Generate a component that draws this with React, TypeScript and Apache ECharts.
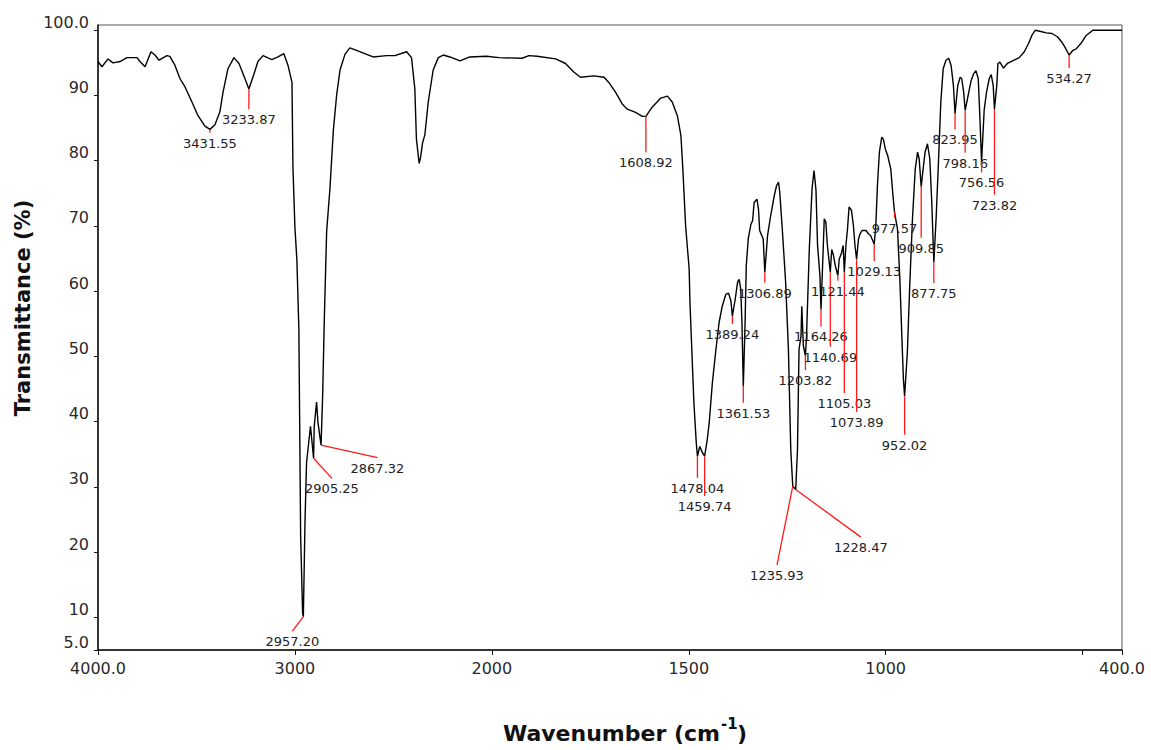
import React, { useEffect, useRef } from "react";
import * as echarts from "echarts";

// ---- Spectrum (wavenumber cm-1, transmittance %) ----
const WAVENUMBERS = [
  4000, 3980, 3949, 3924, 3888, 3853, 3802, 3787, 3761, 3731, 3711, 3690, 3650, 3635, 3609, 3584, 3558, 3523, 3492, 3457,
  3431.55, 3406, 3381, 3365, 3340, 3310, 3284, 3254, 3233.87, 3208, 3188, 3162, 3117, 3086, 3056, 3035, 3015, 3010, 3000, 2990,
  2980, 2971, 2961, 2957.2, 2949, 2941, 2921, 2905.25, 2902, 2890, 2883, 2867.32, 2859, 2851, 2839, 2822, 2805, 2788, 2771, 2746,
  2721, 2687, 2603, 2535, 2492, 2433, 2408, 2391, 2383, 2369, 2362, 2352, 2340, 2323, 2298, 2272, 2247, 2213, 2162, 2112,
  2027, 1982, 1923, 1906, 1885, 1838, 1813, 1792, 1775, 1741, 1715, 1703, 1686, 1669, 1656, 1635, 1618, 1608.92, 1593, 1571,
  1554, 1542, 1529, 1520, 1515, 1508, 1499, 1497, 1492, 1487, 1481, 1478.04, 1472, 1465, 1459.74, 1453, 1448, 1440, 1431, 1423,
  1415, 1406, 1399, 1393, 1389.24, 1382, 1376, 1372, 1368, 1365, 1361.53, 1357, 1354, 1349, 1342, 1338, 1334, 1327, 1323, 1320,
  1311, 1306.89, 1300, 1292, 1283, 1277, 1272, 1269, 1262, 1254, 1247, 1241, 1235.93, 1228.47, 1224, 1220, 1215, 1213, 1209, 1203.82,
  1201, 1194, 1187, 1182, 1177, 1173, 1167, 1164.26, 1159, 1156, 1152, 1148, 1140.69, 1137, 1133, 1128, 1121.44, 1118, 1112, 1108,
  1105.03, 1101, 1097, 1093, 1087, 1082, 1078, 1073.89, 1069, 1065, 1060, 1050, 1044, 1038, 1029.13, 1025, 1021, 1016, 1010, 1006,
  1001, 995, 987, 982, 977.57, 970, 964, 959, 955, 952.02, 945, 939, 932, 925, 919, 915, 909.85, 905, 900, 894,
  888, 883, 877.75, 872, 866, 860, 854, 847, 840, 834, 828, 823.95, 817, 811, 807, 802, 798.16, 789, 783, 777,
  771, 765, 761, 756.56, 750, 744, 737, 732, 727, 723.82, 718, 715, 710, 701, 691, 674, 661, 648, 637, 629,
  620, 606, 592, 578, 564, 553, 543, 534.27, 525, 517, 504, 491, 474, 400,
];
const TRANSMITTANCE = [
  95.2, 94.4, 95.6, 95.0, 95.2, 95.8, 95.8, 95.2, 94.4, 96.7, 96.2, 95.4, 96.1, 96.0, 94.6, 92.6, 91.3, 89.0, 86.9, 85.3,
  84.8, 85.5, 87.5, 90.5, 94.1, 95.8, 94.9, 92.6, 91.0, 93.3, 95.2, 96.1, 95.5, 95.9, 96.4, 94.6, 92.0, 79.0, 69.7, 64.8,
  54.2, 22.5, 10.7, 10.1, 24.4, 33.7, 39.3, 34.4, 39.3, 43.0, 39.9, 36.4, 44.2, 55.4, 69.1, 75.8, 84.6, 90.1, 93.9, 96.3,
  97.3, 96.9, 95.9, 96.1, 96.1, 96.7, 95.8, 91.0, 83.3, 79.6, 80.5, 82.7, 84.0, 89.0, 93.9, 95.8, 96.2, 95.9, 95.3, 95.9,
  96.0, 95.8, 95.7, 96.1, 96.0, 95.6, 94.9, 93.6, 92.8, 93.0, 92.8, 92.0, 90.5, 88.7, 87.9, 87.4, 86.8, 86.8, 88.2, 89.6,
  89.9, 89.0, 86.9, 83.9, 78.7, 70.0, 63.4, 58.3, 50.6, 42.9, 36.8, 34.7, 36.2, 35.2, 34.7, 37.3, 39.9, 46.0, 51.1, 55.2,
  57.7, 59.5, 59.7, 58.5, 56.2, 58.8, 61.4, 61.8, 60.3, 55.2, 45.4, 55.2, 63.9, 68.0, 70.3, 70.8, 73.6, 74.1, 72.6, 69.3,
  68.0, 62.9, 68.5, 71.6, 74.6, 76.2, 76.7, 75.2, 69.0, 61.3, 51.1, 35.7, 30.1, 29.6, 35.7, 51.1, 53.1, 57.7, 51.6, 50.1,
  53.1, 66.4, 75.7, 78.5, 75.5, 67.0, 62.4, 57.2, 65.9, 71.1, 70.6, 67.0, 62.9, 66.4, 65.6, 63.9, 62.4, 64.9, 65.9, 67.0,
  62.9, 67.0, 69.5, 72.9, 72.4, 70.1, 67.0, 64.9, 68.0, 68.8, 69.3, 69.3, 68.8, 68.5, 67.2, 70.1, 76.2, 81.3, 83.6, 83.3,
  81.8, 80.8, 78.7, 75.0, 72.1, 69.5, 61.8, 53.1, 46.5, 43.9, 50.6, 60.8, 71.1, 78.7, 81.3, 80.3, 76.0, 78.7, 81.3, 82.6,
  80.3, 73.6, 64.4, 71.1, 79.8, 89.0, 94.1, 95.4, 95.7, 94.6, 91.5, 87.2, 91.5, 92.8, 92.6, 90.5, 87.7, 90.5, 92.3, 93.3,
  93.8, 92.6, 86.9, 79.8, 87.7, 90.5, 92.6, 93.2, 91.5, 87.9, 91.5, 94.9, 95.1, 94.2, 94.9, 95.4, 95.8, 96.7, 98.0, 99.2,
  100.0, 99.8, 99.6, 99.5, 99.0, 98.2, 97.2, 96.2, 96.9, 97.1, 98.0, 99.2, 100.0, 100.0,
];

// ---- Peak annotations ----
const PEAK_LABELS = [
  "3431.55", "3233.87", "2957.20", "2905.25", "2867.32", "1608.92", "1478.04", "1459.74", "1389.24", "1361.53",
  "1306.89", "1235.93", "1228.47", "1203.82", "1164.26", "1140.69", "1121.44", "1105.03", "1073.89", "1029.13",
  "977.57", "952.02", "909.85", "877.75", "823.95", "798.16", "756.56", "723.82", "534.27",
];
const PEAK_WN = [
  3431.55, 3233.87, 2957.2, 2905.25, 2867.32, 1608.92, 1478.04, 1459.74, 1389.24, 1361.53,
  1306.89, 1235.93, 1228.47, 1203.82, 1164.26, 1140.69, 1121.44, 1105.03, 1073.89, 1029.13,
  977.57, 952.02, 909.85, 877.75, 823.95, 798.16, 756.56, 723.82, 534.27,
];
const PEAK_T = [
  84.8, 91.0, 10.1, 34.4, 36.4, 86.8, 34.7, 34.7, 56.2, 45.4,
  62.9, 30.1, 29.6, 50.1, 57.2, 62.9, 62.4, 62.9, 64.9, 67.2,
  72.1, 43.9, 76.0, 64.4, 87.2, 87.7, 79.8, 87.9, 96.2,
];
const LEADER_END_WN = [
  3431.55, 3233.87, 3013, 2812, 2581, 1608.92, 1478.04, 1459.74, 1389.24, 1361.53,
  1306.89, 1276, 1063, 1203.82, 1164.26, 1140.69, 1121.44, 1105.03, 1073.89, 1029.13,
  977.57, 952.02, 909.85, 877.75, 823.95, 798.16, 756.56, 723.82, 534.27,
];
const LEADER_END_T = [
  84.3, 87.9, 7.9, 31.3, 34.5, 81.3, 31.4, 28.6, 55.0, 42.9,
  61.3, 18.0, 22.3, 47.9, 54.6, 51.5, 61.6, 44.4, 41.5, 64.6,
  71.2, 38.0, 68.2, 61.2, 84.8, 81.2, 78.2, 74.8, 94.2,
];

// ---- Axis ticks ----
const X_TICK_WN = [4000, 3000, 2000, 1500, 1000, 500, 400];
const X_LABEL_WN = [4000, 3000, 2000, 1500, 1000, 400];
const X_LABEL_TEXT = ["4000.0", "3000", "2000", "1500", "1000", "400.0"];
const Y_TICKS = [5, 10, 20, 30, 40, 50, 60, 70, 80, 90, 100];
const Y_TICK_TEXT = ["5.0", "10", "20", "30", "40", "50", "60", "70", "80", "90", "100.0"];

// piecewise wavenumber scale (2000-400 region expanded x2)
const toP = (w: number) => (w >= 2000 ? 4000 - w : 2000 + (2000 - w) * 2);

export default function App() {
  const ref = useRef<HTMLDivElement>(null);
  useEffect(() => {
    document.body.style.margin = "0";
    if (!ref.current) return;
    const chart = echarts.init(ref.current, undefined, { renderer: "svg" });
    const spectrum = WAVENUMBERS.map((w, i) => [toP(w), TRANSMITTANCE[i]]);
    const ann = PEAK_WN.map((w, i) => [toP(w), PEAK_T[i], toP(LEADER_END_WN[i]), LEADER_END_T[i]]);
    const xLabelMap: Record<number, string> = {};
    X_LABEL_WN.forEach((w, i) => (xLabelMap[toP(w)] = X_LABEL_TEXT[i]));
    const yLabelMap: Record<number, string> = {};
    Y_TICKS.forEach((v, i) => (yLabelMap[v] = Y_TICK_TEXT[i]));
    const tickFont = '"DejaVu Sans", sans-serif';
    const titleFont = 'bold 22px "DejaVu Sans", sans-serif';

    chart.setOption({
      animation: false,
      backgroundColor: "#ffffff",
      grid: {
        left: 98,
        right: 29,
        top: 25,
        bottom: 100,
        show: true,
        borderColor: "#555",
        borderWidth: 1,
        backgroundColor: "transparent",
      },
      xAxis: {
        type: "value",
        min: 0,
        max: 5200,
        axisLine: { show: true, onZero: false, lineStyle: { color: "#111", width: 1.5 } },
        axisTick: { show: true, length: 5, lineStyle: { color: "#111" }, customValues: X_TICK_WN.map(toP) },
        axisLabel: {
          customValues: X_LABEL_WN.map(toP),
          formatter: (v: number) => xLabelMap[v] ?? "",
          fontFamily: tickFont,
          fontSize: 16,
          color: "#2a2a2a",
          margin: 10,
          showMaxLabel: true,
          showMinLabel: true,
        },
        splitLine: { show: false },
      },
      yAxis: {
        type: "value",
        min: 5,
        max: 100.8,
        axisLine: { show: true, lineStyle: { color: "#111", width: 1.5 } },
        axisTick: { show: true, length: 4, lineStyle: { color: "#111" }, customValues: Y_TICKS },
        axisLabel: {
          customValues: Y_TICKS,
          formatter: (v: number) => yLabelMap[v] ?? "",
          fontFamily: tickFont,
          fontSize: 16,
          color: "#2a2a2a",
          margin: 9,
          verticalAlign: "bottom",
          showMaxLabel: true,
          showMinLabel: true,
        },
        splitLine: { show: false },
      },
      graphic: [
        {
          type: "text",
          x: 23,
          y: 308,
          rotation: Math.PI / 2,
          style: {
            text: "Transmittance (%)",
            font: 'bold 21px "DejaVu Sans", sans-serif',
            fill: "#111",
            align: "center",
            verticalAlign: "middle",
          },
        },
        {
          type: "text",
          x: 720,
          y: 733,
          style: { text: "Wavenumber (cm", font: titleFont, fill: "#111", align: "right", verticalAlign: "middle" },
        },
        {
          type: "text",
          x: 721,
          y: 724,
          style: {
            text: "-1",
            font: 'bold 15px "DejaVu Sans", sans-serif',
            fill: "#111",
            align: "left",
            verticalAlign: "middle",
          },
        },
        {
          type: "text",
          x: 737,
          y: 733,
          style: { text: ")", font: titleFont, fill: "#111", align: "left", verticalAlign: "middle" },
        },
      ],
      series: [
        {
          type: "line",
          data: spectrum,
          showSymbol: false,
          symbol: "none",
          lineStyle: { color: "#000", width: 1.4 },
          clip: true,
          z: 2,
        },
        {
          type: "custom",
          data: ann,
          z: 3,
          clip: false,
          renderItem: (params: any, api: any) => {
            const p0 = api.coord([api.value(0), api.value(1)]);
            const p1 = api.coord([api.value(2), api.value(3)]);
            return {
              type: "group",
              children: [
                {
                  type: "line",
                  shape: { x1: p0[0], y1: p0[1], x2: p1[0], y2: p1[1] },
                  style: { stroke: "#ff1a1a", lineWidth: 1.3 },
                },
                {
                  type: "text",
                  x: p1[0],
                  y: p1[1] + 4,
                  style: {
                    text: PEAK_LABELS[params.dataIndex],
                    font: '13px "DejaVu Sans", sans-serif',
                    fill: "#222",
                    align: "center",
                    verticalAlign: "top",
                  },
                },
              ],
            };
          },
        },
      ],
    });
    return () => chart.dispose();
  }, []);
  return <div ref={ref} style={{ width: 1151, height: 750 }} />;
}
